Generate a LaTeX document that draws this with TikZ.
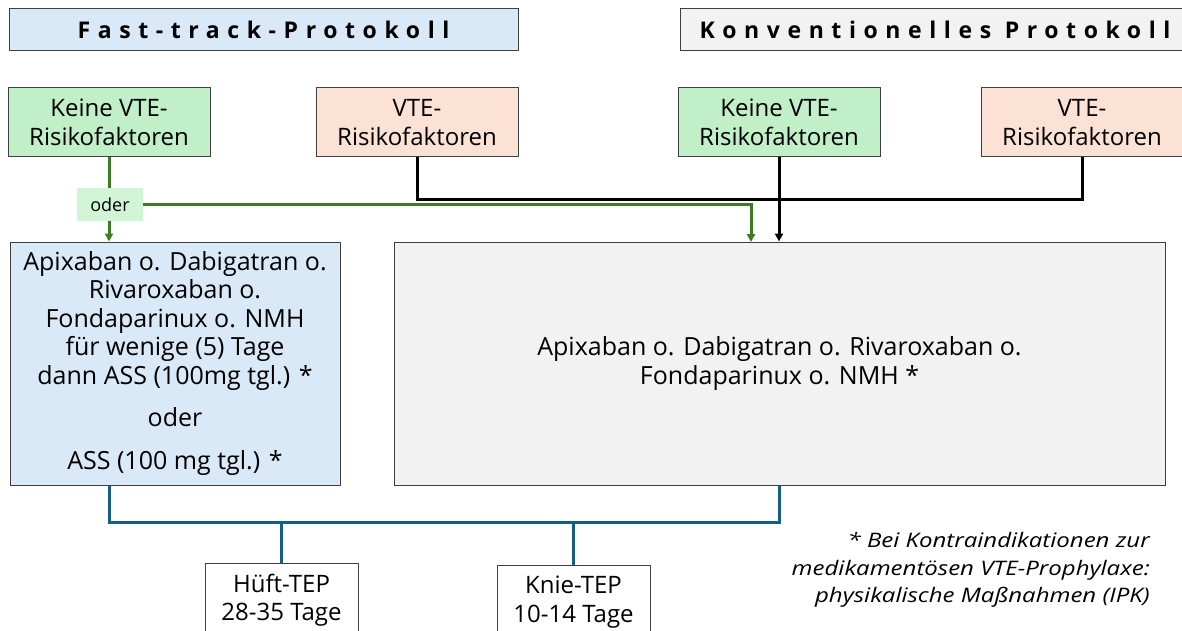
\documentclass[tikz,border=0pt]{standalone}
\usepackage{fontspec}
\setmainfont{Open Sans}
\newfontfamily\titlefont[LetterSpace=33,Ligatures=NoCommon]{Open Sans}
\newfontfamily\notefont[FakeStretch=1.2]{Open Sans}
\usetikzlibrary{arrows.meta}
\definecolor{bxgreen}{HTML}{C1F0C8}
\definecolor{bxorange}{HTML}{FBE2D5}
\definecolor{bxblue}{HTML}{DAE9F7}
\definecolor{bxgray}{HTML}{F2F2F2}
\definecolor{odergreen}{HTML}{D2F5D8}
\definecolor{lngreen}{HTML}{3A7D22}
\definecolor{lnblue}{HTML}{156082}
\definecolor{bord}{HTML}{404040}
\tikzset{
  box/.style={draw=bord, line width=1pt, rectangle, inner sep=0pt, align=center, text=black,
     font=\fontsize{24}{28.5}\selectfont},
  bigbox/.style={box, font=\fontsize{25}{28.5}\selectfont},
  ttl/.style={box, font=\titlefont\bfseries\fontsize{23}{26}\selectfont},
  glink/.style={draw=lngreen, line width=3pt},
  klink/.style={draw=black, line width=3pt},
  blink/.style={draw=lnblue, line width=3pt},
  tip/.style={-{Triangle[length=8pt,width=8pt]}},
}
\begin{document}
\begin{tikzpicture}[x=1pt,y=-1pt]
\useasboundingbox (0,0) rectangle (1182,631);
% titles
\node[ttl, fill=bxblue, minimum width=509pt, minimum height=42pt] (t1) at (263.5,29.5) {Fast-track-Protokoll};
\node[ttl, fill=bxgray, minimum width=510pt, minimum height=42pt] (t2) at (935,29.5) {Konventionelles Protokoll};
% risk boxes
\node[box, fill=bxgreen, minimum width=202pt, minimum height=69pt] (g1) at (109,122.5) {Keine VTE-\\Risikofaktoren};
\node[box, fill=bxorange, minimum width=202pt, minimum height=69pt] (o1) at (417,122.5) {VTE-\\Risikofaktoren};
\node[box, fill=bxgreen, minimum width=202pt, minimum height=69pt] (g2) at (779,122.5) {Keine VTE-\\Risikofaktoren};
\node[box, fill=bxorange, minimum width=202pt, minimum height=69pt] (o2) at (1082,122.5) {VTE-\\Risikofaktoren};
% oder label
\node[rectangle, fill=odergreen, minimum width=66pt, minimum height=33pt, inner sep=0pt,
  font=\fontsize{18}{20}\selectfont] (oder) at (110,204.5) {oder};
% treatment boxes
\node[bigbox, fill=bxblue, minimum width=330pt, minimum height=243pt] (L) at (175,363.5)
  {Apixaban o. Dabigatran o.\\Rivaroxaban o.\\Fondaparinux o. NMH\\für wenige (5) Tage\\dann ASS (100mg tgl.) *\\[14pt]oder\\[14pt]ASS (100 mg tgl.) *};
\node[bigbox, fill=bxgray, minimum width=771pt, minimum height=243pt] (R) at (779.5,363.5)
  {Apixaban o. Dabigatran o. Rivaroxaban o.\\Fondaparinux o. NMH *};
% duration boxes
\node[box, fill=white, minimum width=153pt, minimum height=74pt] (H) at (281.5,600) {Hüft-TEP\\28-35 Tage};
\node[box, fill=white, minimum width=153pt, minimum height=74pt] (K) at (573.5,602) {Knie-TEP\\10-14 Tage};
% footnote
\node[anchor=east, align=right, inner sep=0pt, font=\notefont\itshape\fontsize{20}{27.5}\selectfont] (fn) at (1150,570)
  {* Bei Kontraindikationen zur\\medikamentösen VTE-Prophylaxe:\\physikalische Maßnahmen (IPK)};
% helper coordinates
\coordinate (rg) at (751,242);
\coordinate (bk) at (0,199);
\coordinate (bl) at (0,522);
% green connectors
\draw[glink] (g1.south) -- (g1.south |- oder.north);
\draw[glink, tip] (g1.south |- oder.south) -- (g1.south |- L.north);
\draw[glink, tip] (oder.east) -| (rg);
% black connectors
\draw[klink] (o1.south) -- (o1.south |- bk) -| (o2.south);
\draw[klink, tip] (g2.south) -- (g2.south |- R.north);
% blue connectors
\draw[blink] (g1.south |- L.south) -- (g1.south |- bl) -- (R.south |- bl) -- (R.south);
\draw[blink] (H.north |- bl) -- (H.north);
\draw[blink] (K.north |- bl) -- (K.north);
\end{tikzpicture}
\end{document}
